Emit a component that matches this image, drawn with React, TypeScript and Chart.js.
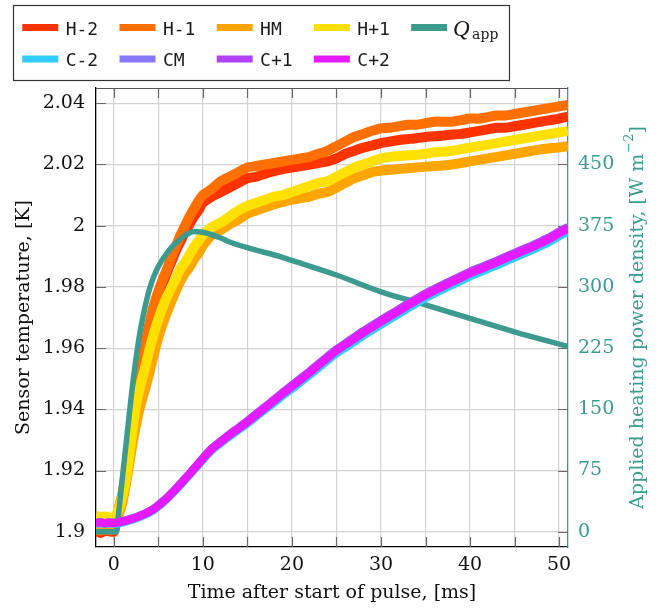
import React, { useEffect, useRef } from 'react';
import { Chart, registerables } from 'chart.js';

Chart.register(...registerables);

// ---- data ----
const TIME = [-2, -1.5, -1, -0.5, 0, 0.5, 1, 1.5, 2, 2.5, 3, 3.5, 4, 4.5, 5, 5.5, 6, 6.5, 7, 7.5, 8, 8.5, 9, 9.5, 10,
  11, 12, 13, 14, 15, 16, 17, 18, 19, 20, 21, 22, 23, 24, 25, 26, 27, 28, 29, 30,
  31, 32, 33, 34, 35, 36, 37, 38, 39, 40, 41, 42, 43, 44, 45, 46, 47, 48, 49, 50, 51];

const H_M2 = [1.9002, 1.8996, 1.9003, 1.9001, 1.9, 1.906, 1.912, 1.921, 1.931, 1.941, 1.95, 1.959, 1.966, 1.972, 1.977, 1.981, 1.985, 1.9885, 1.992, 1.995, 1.998, 2.0005, 2.003, 2.005, 2.0075,
  2.0095, 2.011, 2.0125, 2.014, 2.0155, 2.016, 2.017, 2.0178, 2.0185, 2.019, 2.0195, 2.02, 2.0205, 2.021, 2.022,
  2.0235, 2.0245, 2.0255, 2.0262, 2.027, 2.0275, 2.028, 2.0283, 2.0286, 2.029, 2.0292, 2.0295, 2.0298, 2.03, 2.0305,
  2.031, 2.0315, 2.032, 2.032, 2.0325, 2.033, 2.0335, 2.034, 2.0345, 2.035, 2.0356];

const H_M1 = [1.9006, 1.9004, 1.9007, 1.9005, 1.9008, 1.907, 1.913, 1.922, 1.932, 1.942, 1.952, 1.961, 1.968, 1.974, 1.9785, 1.9825, 1.986, 1.99, 1.9935, 1.997, 2.0, 2.003, 2.0055, 2.008, 2.01,
  2.012, 2.0145, 2.016, 2.0175, 2.019, 2.0195, 2.02, 2.0205, 2.021, 2.0215, 2.022, 2.0225, 2.0235, 2.0245, 2.026,
  2.0275, 2.029, 2.03, 2.031, 2.0318, 2.032, 2.0325, 2.033, 2.033, 2.0335, 2.034, 2.034, 2.034, 2.0345, 2.035,
  2.035, 2.0355, 2.036, 2.036, 2.0365, 2.037, 2.0375, 2.038, 2.0385, 2.039, 2.0395];

const H_MID = [1.9012, 1.901, 1.9013, 1.9011, 1.901, 1.905, 1.91, 1.918, 1.927, 1.935, 1.9415, 1.9465, 1.952, 1.958, 1.9635, 1.968, 1.972, 1.9755, 1.979, 1.982, 1.9845, 1.9865, 1.989, 1.991, 1.9935,
  1.997, 1.9985, 2.0005, 2.002, 2.004, 2.005, 2.006, 2.007, 2.0078, 2.0085, 2.009, 2.0095, 2.0105, 2.011, 2.0125,
  2.014, 2.0155, 2.0165, 2.0175, 2.018, 2.0183, 2.0185, 2.0188, 2.019, 2.0193, 2.0195, 2.0197, 2.02, 2.0205, 2.021,
  2.0215, 2.022, 2.0225, 2.023, 2.0235, 2.024, 2.0245, 2.025, 2.0253, 2.0256, 2.026];

const H_P1 = [1.9052, 1.9048, 1.905, 1.9046, 1.9045, 1.907, 1.912, 1.92, 1.931, 1.9415, 1.948, 1.9535, 1.9595, 1.9648, 1.9695, 1.9735, 1.977, 1.98, 1.983, 1.986, 1.988, 1.9905, 1.993, 1.995, 1.997,
  1.9995, 2.001, 2.003, 2.005, 2.0065, 2.0075, 2.0085, 2.0095, 2.01, 2.011, 2.012, 2.013, 2.014, 2.0145, 2.016,
  2.0175, 2.019, 2.02, 2.021, 2.022, 2.0225, 2.0228, 2.023, 2.0232, 2.0235, 2.024, 2.0242, 2.0245, 2.025, 2.0255,
  2.026, 2.0265, 2.027, 2.0275, 2.028, 2.0285, 2.029, 2.0295, 2.03, 2.0305, 2.031];

const C_M2 = [1.9026, 1.9027, 1.9025, 1.9026, 1.9025, 1.9027, 1.903, 1.9034, 1.9038, 1.9043, 1.9049, 1.9055, 1.9062, 1.9071, 1.9082, 1.9094, 1.9107, 1.9122, 1.9137, 1.9153, 1.9169, 1.9185, 1.9202, 1.9218, 1.9235,
  1.9266, 1.9289, 1.9311, 1.9332, 1.9353, 1.9376, 1.9399, 1.9421, 1.9445, 1.9466, 1.9489, 1.9512, 1.9535, 1.9559, 1.9582,
  1.9601, 1.962, 1.964, 1.9658, 1.9676, 1.9694, 1.9711, 1.9729, 1.9746, 1.9763, 1.9778, 1.9792, 1.9806, 1.982, 1.9834,
  1.9846, 1.9858, 1.987, 1.9883, 1.9895, 1.9908, 1.992, 1.9934, 1.9948, 1.9965, 1.998];

const C_MID = [1.9029, 1.903, 1.9028, 1.903, 1.9029, 1.9031, 1.9034, 1.9038, 1.9042, 1.9047, 1.9053, 1.9059, 1.9066, 1.9075, 1.9086, 1.9098, 1.9111, 1.9126, 1.9141, 1.9157, 1.9173, 1.9189, 1.9206, 1.9222, 1.9239,
  1.9271, 1.9294, 1.9317, 1.9338, 1.9359, 1.9383, 1.9406, 1.9429, 1.9453, 1.9476, 1.9499, 1.9522, 1.9546, 1.957, 1.9593,
  1.9613, 1.9632, 1.9652, 1.967, 1.9688, 1.9706, 1.9723, 1.9741, 1.9758, 1.9775, 1.979, 1.9804, 1.9818, 1.9832, 1.9846,
  1.9858, 1.987, 1.9882, 1.9895, 1.9907, 1.992, 1.9932, 1.9946, 1.996, 1.9977, 1.9992];

const C_P1 = [1.903, 1.9031, 1.9029, 1.9031, 1.903, 1.9032, 1.9035, 1.9039, 1.9043, 1.9048, 1.9054, 1.906, 1.9067, 1.9076, 1.9087, 1.9099, 1.9112, 1.9127, 1.9142, 1.9158, 1.9174, 1.919, 1.9207, 1.9224, 1.9241,
  1.9273, 1.9296, 1.9319, 1.934, 1.9362, 1.9386, 1.9409, 1.9432, 1.9456, 1.9479, 1.9502, 1.9525, 1.9549, 1.9573, 1.9596,
  1.9616, 1.9636, 1.9656, 1.9674, 1.9692, 1.971, 1.9727, 1.9745, 1.9762, 1.9779, 1.9794, 1.9808, 1.9822, 1.9836, 1.985,
  1.9862, 1.9874, 1.9886, 1.9899, 1.9911, 1.9924, 1.9936, 1.995, 1.9964, 1.9981, 1.9996];

const C_P2 = [1.9028, 1.903, 1.9027, 1.9029, 1.9028, 1.903, 1.9033, 1.9037, 1.9041, 1.9046, 1.9052, 1.9058, 1.9065, 1.9074, 1.9085, 1.9097, 1.911, 1.9125, 1.914, 1.9156, 1.9172, 1.9188, 1.9205, 1.9221, 1.9238,
  1.927, 1.9293, 1.9316, 1.9337, 1.9358, 1.9382, 1.9405, 1.9428, 1.9452, 1.9474, 1.9497, 1.952, 1.9544, 1.9568, 1.9591,
  1.9611, 1.963, 1.965, 1.9668, 1.9686, 1.9704, 1.9721, 1.9739, 1.9756, 1.9773, 1.9788, 1.9802, 1.9816, 1.983, 1.9844,
  1.9856, 1.9868, 1.988, 1.9893, 1.9905, 1.9918, 1.993, 1.9944, 1.9958, 1.9975, 1.999];

const Q_TIME = [-2, 0, 0.3, 0.5, 1, 1.5, 2, 2.5, 3, 3.5, 4, 4.5, 5, 6, 7, 8, 9, 10, 12, 13, 15, 18.7, 20, 25, 30, 35, 40, 45, 51];
const Q_APP = [0, 0, 0, 18, 70, 120, 170, 213, 248, 275, 297, 313, 325, 342, 354, 363, 368, 367, 360, 355, 348, 337, 332.5, 314.6, 294, 278, 261.5, 245, 227];

const X_TICKS = [0, 5, 10, 15, 20, 25, 30, 35, 40, 45, 50];
const Y_TICKS = [1.9, 1.92, 1.94, 1.96, 1.98, 2, 2.02, 2.04];
const Q_TICKS = [0, 75, 150, 225, 300, 375, 450];

const TEAL = '#3d9a8f';
const SERIF = '"DejaVu Serif", serif';
const MONO = '"DejaVu Sans Mono", monospace';

const SERIES = [
  { label: 'H-2', color: '#ff3300', values: H_M2 },
  { label: 'H-1', color: '#ff7000', values: H_M1 },
  { label: 'HM', color: '#ffa500', values: H_MID },
  { label: 'H+1', color: '#ffe100', values: H_P1 },
  { label: 'Qapp', color: TEAL, values: Q_APP },
  { label: 'C-2', color: '#33ccff', values: C_M2 },
  { label: 'CM', color: '#8877ff', values: C_MID },
  { label: 'C+1', color: '#b044f5', values: C_P1 },
  { label: 'C+2', color: '#e61aff', values: C_P2 },
];

const decorPlugin = {
  id: 'decor',
  beforeDatasetsDraw(chart: any) {
    const ctx = chart.ctx;
    const { left, right, top, bottom } = chart.chartArea;
    const xs = chart.scales.x;
    const ys = chart.scales.y;
    ctx.save();
    ctx.strokeStyle = '#6a6a6a';
    ctx.lineWidth = 1.2;
    const L = 10;
    X_TICKS.forEach((v) => {
      const px = Math.round(xs.getPixelForValue(v)) + 0.5;
      ctx.beginPath();
      ctx.moveTo(px, top); ctx.lineTo(px, top + L);
      ctx.moveTo(px, bottom); ctx.lineTo(px, bottom - L);
      ctx.stroke();
    });
    Y_TICKS.forEach((v) => {
      const py = Math.round(ys.getPixelForValue(v)) + 0.5;
      ctx.beginPath();
      ctx.moveTo(left, py); ctx.lineTo(left + L, py);
      ctx.moveTo(right, py); ctx.lineTo(right - L, py);
      ctx.stroke();
    });
    ctx.restore();
  },
  afterDraw(chart: any) {
    const ctx = chart.ctx;
    const { left, right, top, bottom } = chart.chartArea;
    ctx.save();
    // top frame
    ctx.strokeStyle = '#555';
    ctx.lineWidth = 1.2;
    ctx.beginPath();
    ctx.moveTo(left, top + 0.5); ctx.lineTo(right, top + 0.5);
    ctx.stroke();

    // legend box
    ctx.strokeStyle = '#333';
    ctx.lineWidth = 1.2;
    ctx.strokeRect(13.5, 5.5, 496, 75);
    const colW = 97.2;
    const rowY = [27.5, 59];
    const baseY = [35, 66];
    chart.data.datasets.forEach((ds: any, i: number) => {
      const col = i % 5;
      const row = Math.floor(i / 5);
      const x0 = 22.3 + colW * col;
      ctx.strokeStyle = ds.borderColor;
      ctx.lineWidth = 7;
      ctx.lineCap = 'butt';
      ctx.beginPath();
      ctx.moveTo(x0, rowY[row]); ctx.lineTo(x0 + 36, rowY[row]);
      ctx.stroke();
      ctx.fillStyle = '#1a1a1a';
      ctx.textBaseline = 'alphabetic';
      ctx.textAlign = 'left';
      if (ds.label === 'Qapp') {
        ctx.font = 'italic 23px "Liberation Serif", serif';
        ctx.fillText('Q', x0 + 42, baseY[row] + 1);
        ctx.font = '14px ' + SERIF;
        ctx.fillText('app', x0 + 61, baseY[row] + 4);
      } else {
        ctx.font = '18px ' + MONO;
        ctx.fillText(ds.label, x0 + 43.4, baseY[row]);
      }
    });

    // right axis title (reads bottom to top)
    const main = 'Applied heating power density, [W m';
    const sup = '\u22122';
    const end = ']';
    ctx.fillStyle = TEAL;
    ctx.font = '19px ' + SERIF;
    const w1 = ctx.measureText(main).width;
    const w3 = ctx.measureText(end).width;
    ctx.font = '13px ' + SERIF;
    const w2 = ctx.measureText(sup).width;
    const total = w1 + w2 + w3 + 1;
    ctx.translate(638, (top + bottom) / 2);
    ctx.rotate(-Math.PI / 2);
    ctx.textBaseline = 'middle';
    ctx.textAlign = 'left';
    let x = -total / 2;
    ctx.font = '19px ' + SERIF;
    ctx.fillText(main, x, 0);
    x += w1 + 1;
    ctx.font = '13px ' + SERIF;
    ctx.fillText(sup, x, -8);
    x += w2;
    ctx.font = '19px ' + SERIF;
    ctx.fillText(end, x, 0);
    ctx.restore();
  },
};

export default function App() {
  const ref = useRef<HTMLCanvasElement | null>(null);

  useEffect(() => {
    if (!ref.current) return;
    const N = SERIES.length;
    const datasets = SERIES.map((s, i) => {
      const isQ = s.label === 'Qapp';
      const isHot = s.label.startsWith('H');
      const xs = isQ ? Q_TIME : TIME;
      return {
        label: s.label,
        data: xs.map((t, k) => ({ x: t, y: s.values[k] })),
        borderColor: s.color,
        backgroundColor: s.color,
        borderWidth: isQ ? 5.5 : isHot ? 10 : 8,
        pointRadius: 0,
        tension: isQ ? 0.4 : 0.2,
        cubicInterpolationMode: isQ ? 'monotone' : 'default',
        borderJoinStyle: 'round',
        borderCapStyle: 'butt',
        yAxisID: isQ ? 'yQ' : 'y',
        order: N - i,
        fill: false,
      };
    });

    const tickFont = { family: SERIF, size: 19 };
    const gridColor = '#d2d2d2';

    const chart = new Chart(ref.current, {
      type: 'line',
      data: { datasets } as any,
      options: {
        animation: false,
        responsive: false,
        maintainAspectRatio: false,
        layout: { padding: { top: 88, left: 0, right: 0, bottom: 0 } },
        plugins: { legend: { display: false }, tooltip: { enabled: false } },
        scales: {
          x: {
            type: 'linear',
            min: -2,
            max: 51,
            afterBuildTicks: (s: any) => { s.ticks = X_TICKS.map((v) => ({ value: v })); },
            afterFit: (s: any) => { s.height = 64; },
            grid: { color: gridColor, lineWidth: 1.2, drawTicks: false },
            border: { color: '#000', width: 1.3 },
            ticks: {
              padding: 7,
              font: tickFont,
              color: '#111',
              maxRotation: 0,
              autoSkip: false,
              callback: (v: any) => (Number(v) % 10 === 0 ? String(v) : ''),
            },
            title: {
              display: true,
              text: 'Time after start of pulse, [ms]',
              font: tickFont,
              color: '#111',
              padding: { top: 0, bottom: 7 },
            },
          },
          y: {
            type: 'linear',
            position: 'left',
            min: 1.895,
            max: 2.045,
            afterBuildTicks: (s: any) => { s.ticks = Y_TICKS.map((v) => ({ value: v })); },
            afterFit: (s: any) => { s.width = 96; },
            grid: { color: gridColor, lineWidth: 1.2, drawTicks: false },
            border: { color: '#000', width: 1.3 },
            ticks: {
              padding: 11,
              font: tickFont,
              color: '#111',
              autoSkip: false,
              callback: (v: any) => String(parseFloat(Number(v).toFixed(2))),
            },
            title: {
              display: true,
              text: 'Sensor temperature, [K]',
              font: tickFont,
              color: '#111',
              padding: { top: 13, bottom: 0 },
            },
          },
          yQ: {
            type: 'linear',
            position: 'right',
            min: -18.75,
            max: 543.75,
            afterBuildTicks: (s: any) => { s.ticks = Q_TICKS.map((v) => ({ value: v })); },
            afterFit: (s: any) => { s.width = 97; },
            grid: { display: false, drawTicks: false },
            border: { color: TEAL, width: 1.3 },
            ticks: {
              padding: 10,
              font: tickFont,
              color: TEAL,
              autoSkip: false,
              callback: (v: any) => String(v),
            },
          },
        },
      } as any,
      plugins: [decorPlugin],
    });
    return () => chart.destroy();
  }, []);

  return (
    <div style={{ position: 'fixed', left: 0, top: 0, width: 665, height: 611, background: '#fff' }}>
      <canvas ref={ref} width={665} height={611} style={{ display: 'block', width: 665, height: 611 }} />
    </div>
  );
}
